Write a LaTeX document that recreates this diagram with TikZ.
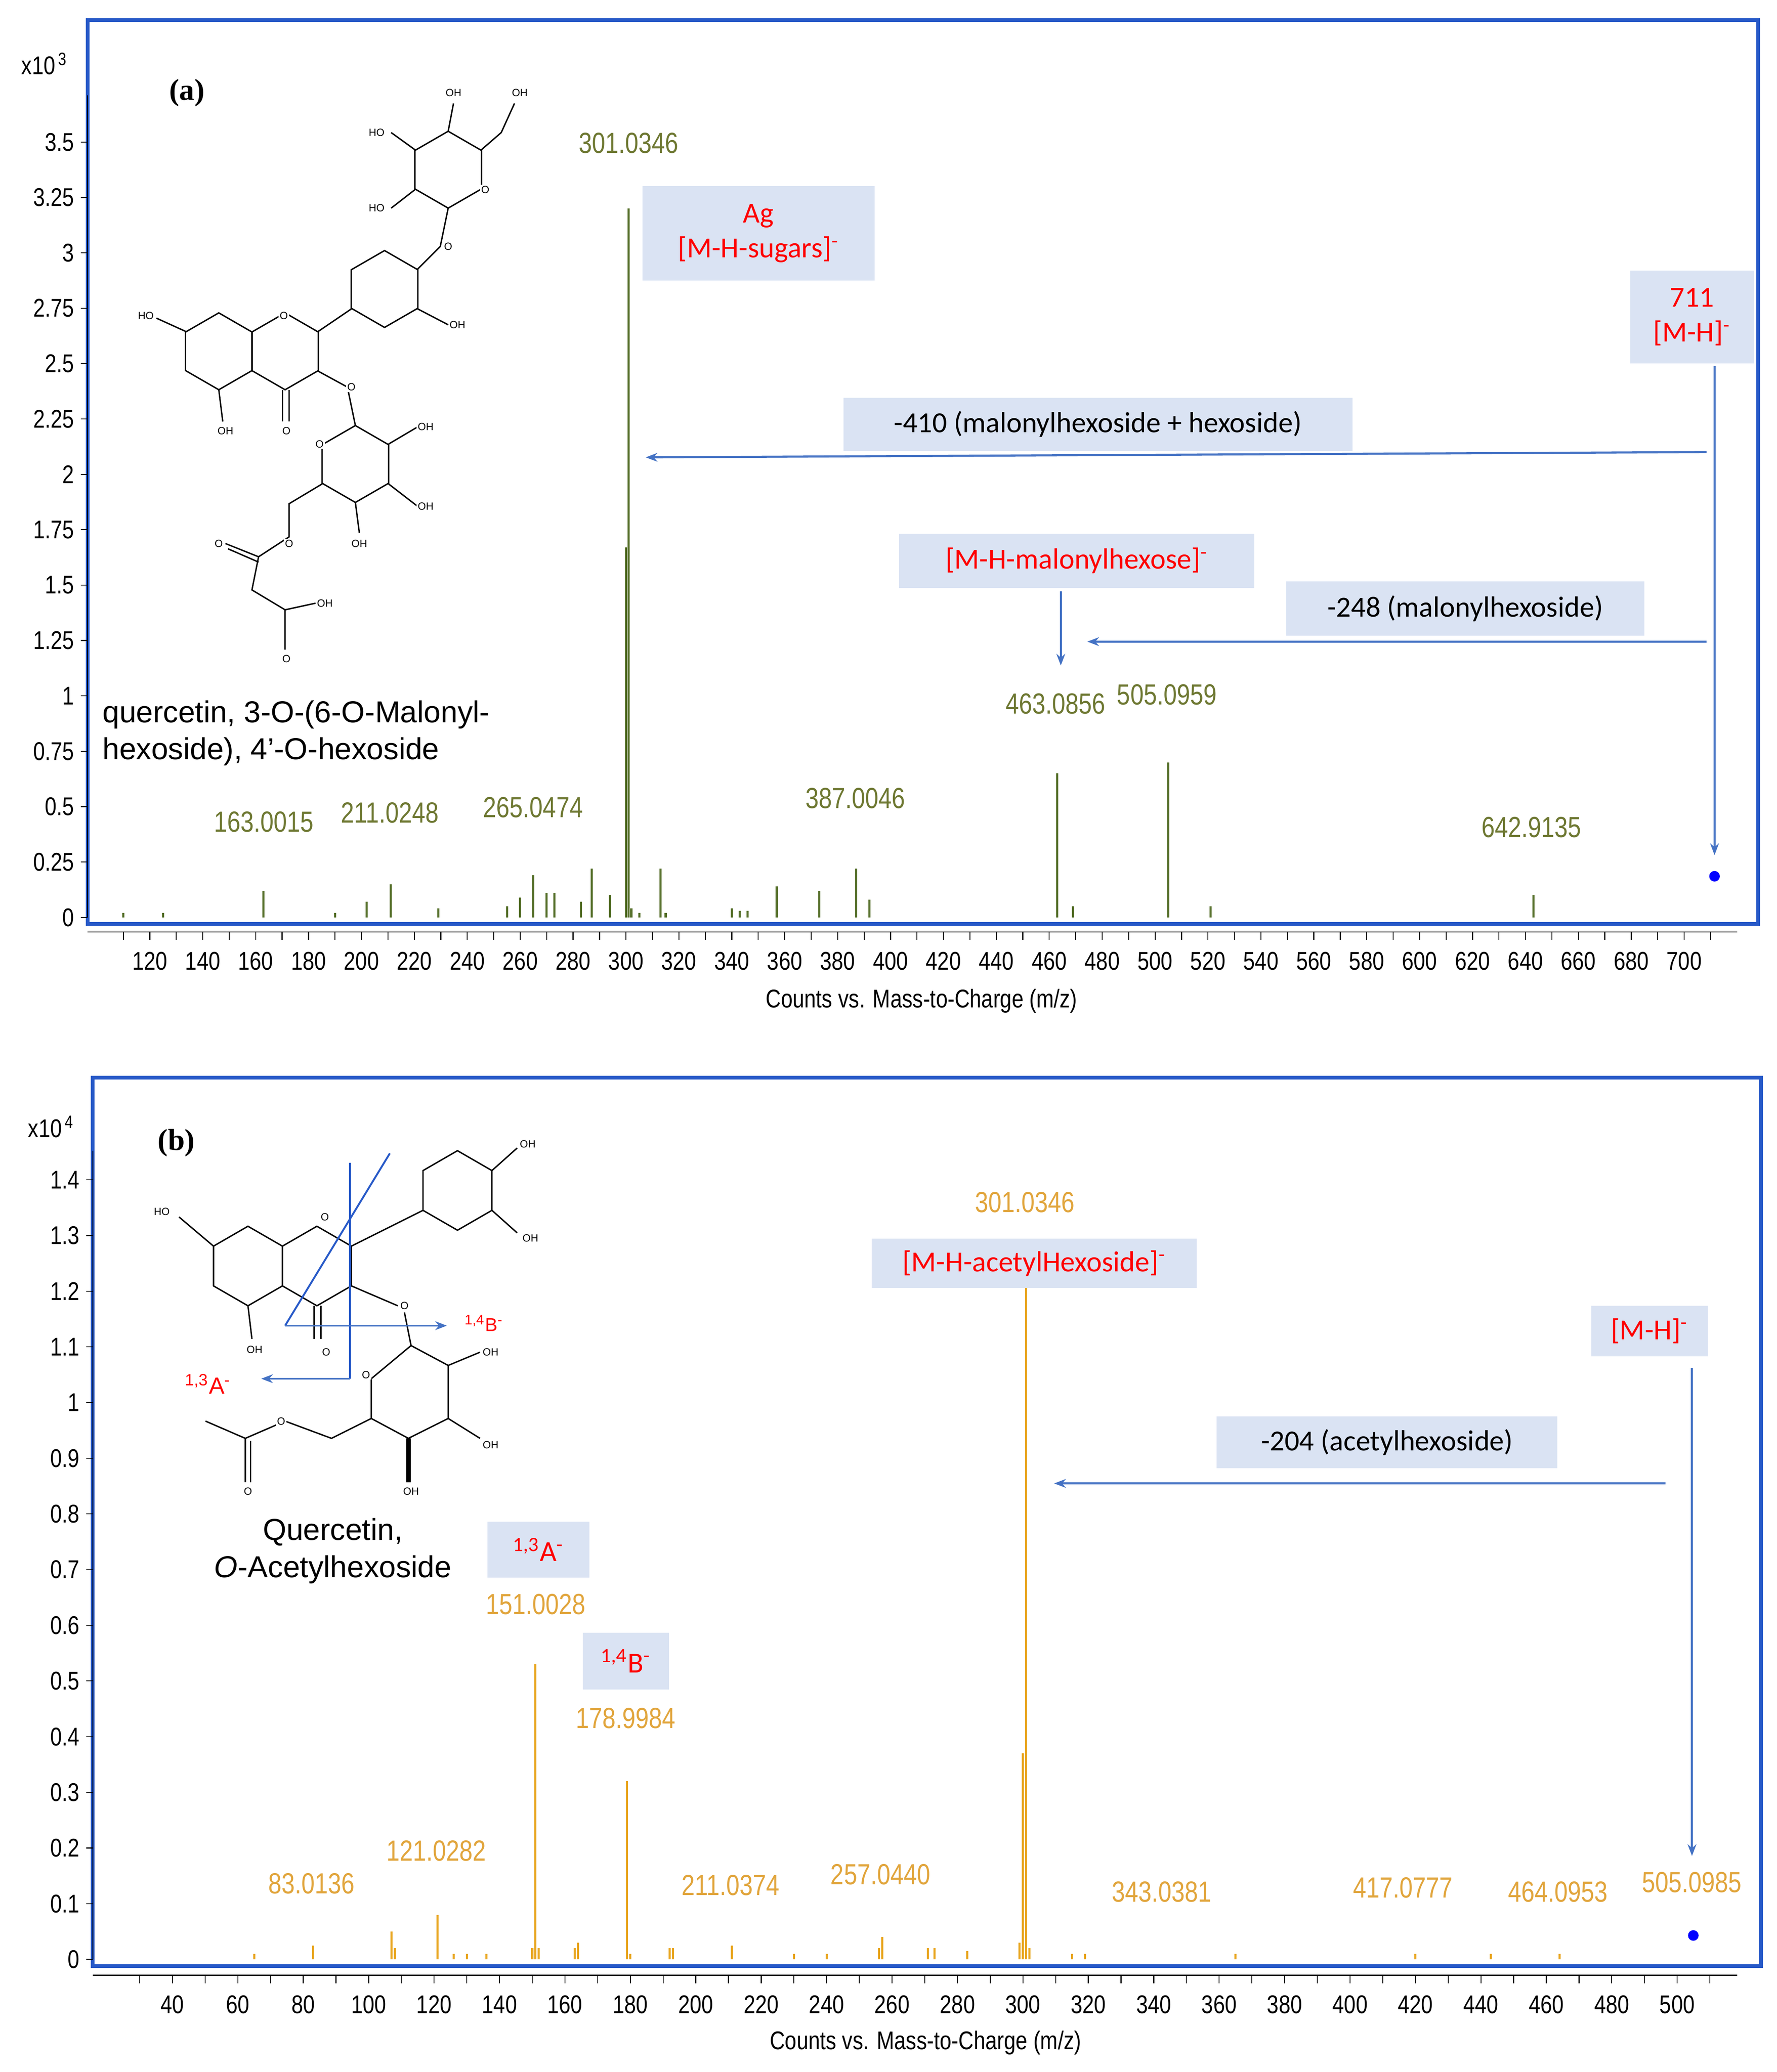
\documentclass[tikz,border=0pt]{standalone}
\usepackage{fontspec}
\setmainfont{Liberation Serif}
\setsansfont{Liberation Sans}
\newfontfamily\axf{Liberation Sans}[FakeStretch=0.82]
\newfontfamily\anf{Carlito}
\usetikzlibrary{arrows.meta}
\definecolor{fr}{RGB}{40,90,200}
\definecolor{arr}{RGB}{68,114,196}
\definecolor{bx}{RGB}{218,227,243}
\definecolor{olv}{RGB}{84,110,40}
\definecolor{olvt}{RGB}{110,120,50}
\definecolor{org}{RGB}{232,165,30}
\definecolor{orgt}{RGB}{225,165,60}
\tikzset{
 axl/.style={font=\axf\fontsize{11}{12}\selectfont},
 box/.style={fill=bx,draw=none},
 rtxt/.style={font=\anf\fontsize{12.5}{15}\selectfont,text=red,align=center},
 btxt/.style={font=\anf\fontsize{12.5}{15}\selectfont,align=center},
 ar/.style={arr,line width=0.9pt,-{Stealth[length=5pt]}},
 chem/.style={line width=0.6pt},
 cl/.style={font=\sffamily\fontsize{4.5}{5}\selectfont,inner sep=0.5pt},
}
\newcommand{\hexa}[3]{\draw[chem] (#1,#2) +(30:#3) -- +(90:#3) -- +(150:#3) -- +(210:#3) -- +(270:#3) -- +(330:#3) -- cycle;}
\begin{document}
\begin{tikzpicture}[x=0.02cm,y=-0.02cm]
\useasboundingbox[fill=white] (0,0) rectangle (1340,1563);
% ================= panel a =================
\draw[fr,line width=1.6pt] (66,15) rectangle (1326,697);
\draw (66,72) -- (66,692);
\foreach \v/\l in {0/0,0.25/0.25,0.5/0.5,0.75/0.75,1/1,1.25/1.25,1.5/1.5,1.75/1.75,2/2,2.25/2.25,2.5/2.5,2.75/2.75,3/3,3.25/3.25,3.5/3.5}{
 \pgfmathsetmacro\yy{692-\v*167.1}
 \draw (61,\yy) -- (66,\yy);
 \node[axl,anchor=east,inner sep=1pt] at (58,\yy) {\l};}
\node[axl,anchor=west] (xa) at (10,48) {x10\textsuperscript{\,3}};
\draw (66,703) -- (1310,703);
\foreach \m in {110,120,...,710}{\pgfmathsetmacro\xx{113+(\m-120)*1.995}\draw (\xx,703)--(\xx,709);}
\foreach \m in {120,140,...,700}{\pgfmathsetmacro\xx{113+(\m-120)*1.995}\node[axl] at (\xx,725) {\m};}
\node[axl] (ta) at (695,755) {Counts vs. Mass-to-Charge (m/z)};
\foreach \m/\h in {110/0.02,125/0.02,163/0.12,190/0.02,202/0.07,211/0.15,229/0.04,255/0.05,260/0.09,265/0.19,270/0.11,273/0.11,283/0.07,287/0.22,294/0.1,300/1.67,301.03/3.2,302/0.04,305/0.02,313/0.22,315/0.02,340/0.04,343/0.03,346/0.03,357/0.14,373/0.12,387/0.22,392/0.08,463/0.65,469/0.05,505/0.7,521/0.05,643/0.1}{
 \pgfmathsetmacro\xx{113+(\m-120)*1.995}\pgfmathsetmacro\yy{692-\h*167.1}
 \draw[olv,line width=0.9pt] (\xx,692) -- (\xx,\yy);}
\fill[blue] (1293,661) circle (4);
\foreach \t/\x/\y in {301.0346/474/108,463.0856/796/531,505.0959/880/524,163.0015/199/620,211.0248/294/613,265.0474/402/609,387.0046/645/602,642.9135/1155/624}
 \node[axl,text=olvt,font=\axf\fontsize{12.5}{14}\selectfont] at (\x,\y) {\t};
\node[box,minimum width=175*0.02cm,minimum height=71*0.02cm] (ag) at (572,176) {};
\node[rtxt] at (ag) {Ag\\{[M-H-sugars]}\textsuperscript{-}};
\node[box,minimum width=93*0.02cm,minimum height=70*0.02cm] (mh) at (1276,239) {};
\node[rtxt] at (mh) {711\\{[M-H]}\textsuperscript{-}};
\node[box,btxt,minimum width=384*0.02cm,minimum height=40*0.02cm] (l410) at (828,320) {-410 (malonylhexoside + hexoside)};
\node[box,rtxt,minimum width=268*0.02cm,minimum height=41*0.02cm] (mal) at (812,423) {[M-H-malonylhexose]\textsuperscript{-}};
\node[box,btxt,minimum width=270*0.02cm,minimum height=41*0.02cm] (l248) at (1105,459) {-248 (malonylhexoside)};
\coordinate (a1) at (1287,341); \coordinate (a2) at (487,345);
\draw[ar] (a1) -- (a2);
\coordinate (b1) at (1293,276); \coordinate (b2) at (1293,645);
\draw[ar] (b1) -- (b2);
\coordinate (c1) at (800,446); \coordinate (c2) at (800,502);
\draw[ar] (c1) -- (c2);
\coordinate (d1) at (1287,484); \coordinate (d2) at (820,484);
\draw[ar] (d1) -- (d2);
\node[font=\bfseries\fontsize{13}{15}\selectfont] (pa) at (141,70) {(a)};
\node[anchor=west,align=left,font=\sffamily\fontsize{13}{16}\selectfont,inner sep=0] (qa) at (77,553) {quercetin, 3-O-(6-O-Malonyl-\\hexoside), 4’-O-hexoside};
% structure a
\hexa{165}{265}{29}\hexa{215}{265}{29}\hexa{290}{218}{29}\hexa{338}{128}{29}\hexa{268}{350}{29}
\draw[chem] (240,250)--(265,233);
\draw[chem] (213,294)--(213,318); \draw[chem] (218,294)--(218,318);
\draw[chem] (240,280)--(262,292)--(268,321);
\draw[chem] (315,203)--(332,186)--(338,157);
\draw[chem] (315,233)--(338,245);
\draw[chem] (140,250)--(118,240);
\draw[chem] (165,294)--(168,318);
\draw[chem] (313,113)--(295,100); \draw[chem] (313,143)--(295,157);
\draw[chem] (363,113)--(378,100)--(388,78);
\draw[chem] (338,99)--(342,78);
\draw[chem] (293,335)--(315,322); \draw[chem] (293,365)--(315,382);
\draw[chem] (268,379)--(271,402);
\draw[chem] (243,365)--(218,380)--(218,405)--(195,420)--(190,445)--(215,460)--(215,490);
\draw[chem] (195,420)--(170,410); \draw[chem] (195,424)--(172,414);
\draw[chem] (215,460)--(238,455);
\foreach \t/\x/\y in {OH/342/70,OH/392/70,HO/284/100,HO/284/157,O/366/143,O/338/186,OH/345/245,HO/110/238,O/214/238,OH/170/325,O/216/325,O/265/292,O/241/335,OH/321/322,OH/321/382,OH/271/410,O/165/410,O/218/410,OH/245/455,O/216/497}
 \node[cl,fill=white] at (\x,\y) {\t};
% ================= panel b =================
\draw[fr,line width=1.6pt] (70,813) rectangle (1328,1483);
\draw (70,868) -- (70,1478);
\foreach \v/\l in {0/0,1/0.1,2/0.2,3/0.3,4/0.4,5/0.5,6/0.6,7/0.7,8/0.8,9/0.9,10/1,11/1.1,12/1.2,13/1.3,14/1.4}{
 \pgfmathsetmacro\yy{1478-\v*42}
 \draw (65,\yy) -- (70,\yy);
 \node[axl,anchor=east,inner sep=1pt] at (62,\yy) {\l};}
\node[axl,anchor=west] (xb) at (15,850) {x10\textsuperscript{\,4}};
\draw (70,1490) -- (1310,1490);
\foreach \m in {30,40,...,510}{\pgfmathsetmacro\xx{130+(\m-40)*2.467}\draw (\xx,1490)--(\xx,1496);}
\foreach \m in {40,60,...,500}{\pgfmathsetmacro\xx{130+(\m-40)*2.467}\node[axl] at (\xx,1512) {\m};}
\node[axl] (tb) at (698,1541) {Counts vs. Mass-to-Charge (m/z)};
\foreach \m/\h in {65/0.01,83/0.025,107/0.05,108/0.02,121/0.08,126/0.01,130/0.01,136/0.01,150/0.02,151/0.53,152/0.02,163/0.02,164/0.03,179/0.32,180/0.01,192/0.02,193/0.02,211/0.025,230/0.01,240/0.01,256/0.02,257/0.04,271/0.02,273/0.02,283/0.015,299/0.03,300/0.37,301.03/1.21,302/0.02,315/0.01,319/0.01,365/0.01,420/0.01,443/0.01,464/0.01}{
 \pgfmathsetmacro\xx{130+(\m-40)*2.467}\pgfmathsetmacro\yy{1478-\h*420}
 \draw[org,line width=0.9pt] (\xx,1478) -- (\xx,\yy);}
\fill[blue] (1277,1460) circle (4);
\foreach \t/\x/\y in {301.0346/773/907,151.0028/404/1210,178.9984/472/1296,83.0136/235/1421,121.0282/329/1396,211.0374/551/1422,257.0440/664/1414,343.0381/876/1427,417.0777/1058/1424,464.0953/1175/1427,505.0985/1276/1420}
 \node[axl,text=orgt,font=\axf\fontsize{12.5}{14}\selectfont] at (\x,\y) {\t};
\node[box,rtxt,minimum width=245*0.02cm,minimum height=37*0.02cm] (acet) at (780,953) {[M-H-acetylHexoside]\textsuperscript{-}};
\node[box,rtxt,minimum width=88*0.02cm,minimum height=38*0.02cm] (mhb) at (1244,1004) {[M-H]\textsuperscript{-}};
\node[box,btxt,minimum width=257*0.02cm,minimum height=39*0.02cm] (l204) at (1046,1088) {-204 (acetylhexoside)};
\node[box,rtxt,minimum width=77*0.02cm,minimum height=42*0.02cm] (a13) at (406,1169) {\textsuperscript{1,3}A\textsuperscript{-}};
\node[box,rtxt,minimum width=65*0.02cm,minimum height=43*0.02cm] (b14) at (472,1253) {\textsuperscript{1,4}B\textsuperscript{-}};
\coordinate (e1) at (1276,1032); \coordinate (e2) at (1276,1400);
\draw[ar] (e1) -- (e2);
\coordinate (f1) at (1256,1119); \coordinate (f2) at (795,1119);
\draw[ar] (f1) -- (f2);
\node[font=\bfseries\fontsize{13}{15}\selectfont] (pb) at (133,862) {(b)};
\node[align=center,font=\sffamily\fontsize{13}{16}\selectfont] (qb) at (251,1170) {Quercetin,\\\textit{O}-Acetylhexoside};
% structure b
\hexa{187}{955}{30}\hexa{239}{955}{30}\hexa{345}{898}{30}
\draw[chem] (265,940)--(319,913);
\draw[chem] (265,970)--(300,985);
\draw[chem] (237,985)--(237,1010); \draw[chem] (242,985)--(242,1010);
\draw[chem] (161,940)--(135,918);
\draw[chem] (187,985)--(190,1010);
\draw[chem] (371,883)--(390,866); \draw[chem] (371,913)--(390,930);
\draw[chem] (305,990)--(310,1015)--(338,1030)--(338,1070)--(308,1085)--(280,1070)--(280,1040)--(310,1015);
\draw[chem] (280,1070)--(250,1085)--(215,1072)--(185,1085)--(185,1118);
\draw[chem] (189,1087)--(189,1118);
\draw[chem] (185,1085)--(155,1072);
\draw[line width=2pt] (308,1085)--(308,1118);
\draw[chem] (338,1030)--(362,1020); \draw[chem] (338,1070)--(362,1085);
\foreach \t/\x/\y in {OH/398/863,OH/400/934,HO/122/914,O/245/918,O/305/985,OH/192/1018,O/246/1020,O/276/1037,OH/370/1020,OH/370/1090,OH/310/1125,O/212/1072,O/187/1125}
 \node[cl,fill=white] at (\x,\y) {\t};
\draw[fr,line width=0.8pt] (294,870)--(215,1000);
\draw[fr,line width=0.8pt] (264,877)--(264,1040);
\coordinate (g1) at (215,1000); \coordinate (g2) at (337,1000);
\draw[ar,line width=0.8pt] (g1) -- (g2);
\coordinate (h1) at (264,1040); \coordinate (h2) at (197,1040);
\draw[ar,line width=0.8pt] (h1) -- (h2);
\node[text=red,font=\sffamily\fontsize{8}{9}\selectfont] (lb) at (365,998) {\textsuperscript{1,4}B\textsuperscript{-}};
\node[text=red,font=\sffamily\fontsize{10}{11}\selectfont] (la) at (157,1044) {\textsuperscript{1,3}A\textsuperscript{-}};
\end{tikzpicture}
\end{document}
